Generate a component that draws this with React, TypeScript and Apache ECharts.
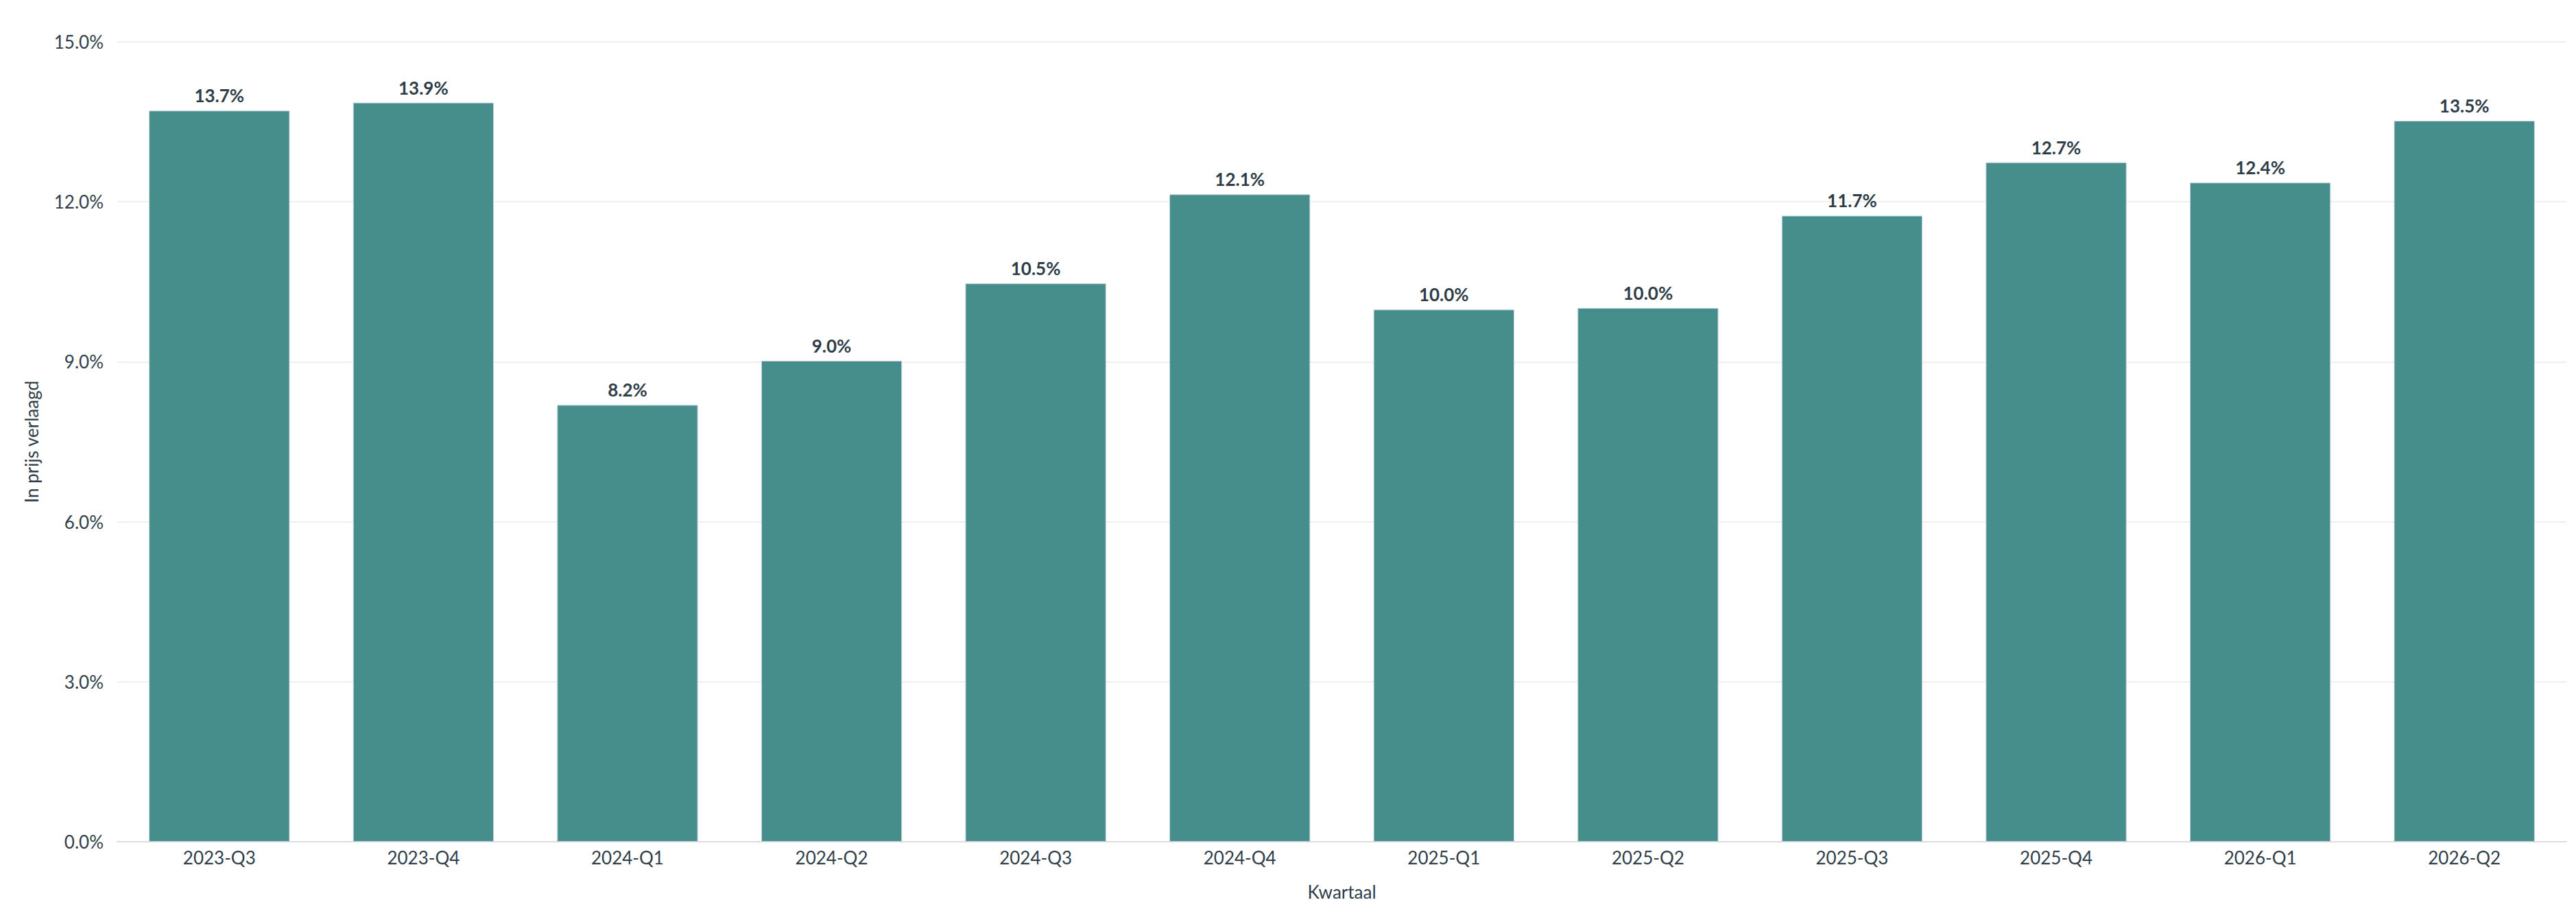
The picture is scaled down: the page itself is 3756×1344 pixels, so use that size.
import React, { useEffect, useRef } from "react";
import * as echarts from "echarts";

const categories = [
  "2023-Q3", "2023-Q4", "2024-Q1", "2024-Q2", "2024-Q3", "2024-Q4",
  "2025-Q1", "2025-Q2", "2025-Q3", "2025-Q4", "2026-Q1", "2026-Q2",
];
const values = [13.71, 13.86, 8.19, 9.02, 10.47, 12.14, 9.98, 10.01, 11.74, 12.74, 12.36, 13.52];
const yTicks = { min: 0, max: 15, interval: 3 };
const xName = "Kwartaal";
const yName = "In prijs verlaagd";

const TEXT = "#2f3d48";
const FONT = "Lato";

export default function App() {
  const ref = useRef<HTMLDivElement>(null);
  useEffect(() => {
    if (!ref.current) return;
    const chart = echarts.init(ref.current, undefined, { renderer: "svg" });
    chart.setOption({
      animation: false,
      textStyle: { fontFamily: FONT },
      grid: { left: 163, right: 6, top: 53, bottom: 109, containLabel: false },
      xAxis: {
        type: "category",
        data: categories,
        name: xName,
        nameLocation: "middle",
        nameGap: 60,
        nameTextStyle: { color: TEXT, fontSize: 26, fontFamily: FONT },
        axisLine: { show: true, lineStyle: { color: "#dcdcdc", width: 2 } },
        axisTick: { show: false },
        axisLabel: { color: TEXT, fontSize: 26, fontFamily: FONT, margin: 10 },
      },
      yAxis: {
        type: "value",
        min: yTicks.min,
        max: yTicks.max,
        interval: yTicks.interval,
        name: yName,
        nameLocation: "middle",
        nameRotate: 90,
        nameGap: 112,
        nameTextStyle: { color: TEXT, fontSize: 26, fontFamily: FONT },
        axisLine: { show: false },
        axisTick: { show: false },
        axisLabel: {
          color: TEXT,
          fontSize: 26,
          fontFamily: FONT,
          margin: 20,
          formatter: (v: number) => v.toFixed(1) + "%",
        },
        splitLine: { show: true, lineStyle: { color: "#efefef", width: 2 } },
      },
      series: [
        {
          type: "bar",
          data: values,
          barCategoryGap: "31%",
          itemStyle: { color: "#468e8c", borderColor: "#c4d2da", borderWidth: 1 },
          label: {
            show: true,
            position: "top",
            distance: 9,
            color: TEXT,
            fontSize: 26,
            fontWeight: "bold",
            fontFamily: FONT,
            formatter: (p: any) => Number(p.value).toFixed(1) + "%",
          },
        },
      ],
    });
    return () => chart.dispose();
  }, []);
  return <div ref={ref} style={{ width: 3740, height: 1328 }} />;
}
